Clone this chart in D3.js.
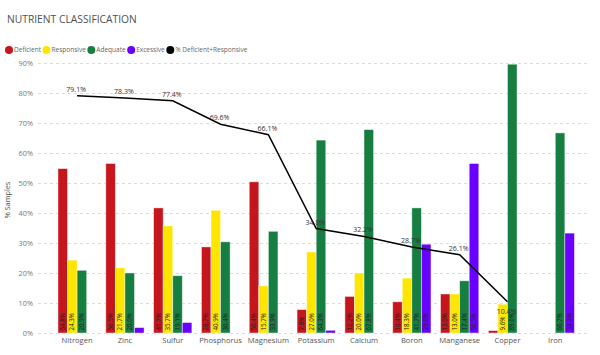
<!DOCTYPE html>
<html><head><meta charset="utf-8">
<script src="https://cdn.jsdelivr.net/npm/d3@7"></script>
<style>body{margin:0;background:#fff;}svg{display:block;}</style>
</head><body>
<svg id="chart" width="600" height="355"></svg>
<script>
const categories = ["Nitrogen","Zinc","Sulfur","Phosphorus","Magnesium","Potassium","Calcium","Boron","Manganese","Copper","Iron"];
const deficient  = [54.8,56.5,41.7,28.7,50.4,7.8,12.2,10.4,13.0,0.8,0];
const responsive = [24.3,21.7,35.7,40.9,15.7,27.0,20.0,18.3,13.0,9.6,0];
const adequate   = [20.9,20.0,19.1,30.4,33.9,64.3,67.8,41.7,17.4,89.6,66.7];
const excessive  = [0,1.8,3.5,0,0,0.9,0,29.6,56.5,0,33.3];
const defResp    = [79.1,78.3,77.4,69.6,66.1,34.8,32.2,28.7,26.1,10.4,null];
const seriesNames = ["Deficient","Responsive","Adequate","Excessive"];
const lineName = "% Deficient+Responsive";
const yTicks = [0,10,20,30,40,50,60,70,80,90];

const colors = {Deficient:"#C5161D",Responsive:"#FFE600",Adequate:"#177E41",Excessive:"#6A00FF"};
const seriesData = [deficient,responsive,adequate,excessive];
const font = "'Segoe UI','Open Sans','Noto Sans',sans-serif";

const svg = d3.select("#chart");

// Title
svg.append("text").attr("x",7).attr("y",23)
  .attr("font-family",font).attr("font-size",12.5).attr("fill","#505050")
  .text("NUTRIENT CLASSIFICATION")
  .each(function(){ const w=this.getComputedTextLength(); d3.select(this).attr("font-size",12.5*130/w); });

// Legend
const legendItems = seriesNames.map(n=>({name:n,color:colors[n]})).concat([{name:lineName,color:"#000"}]);
const probe = svg.append("text").attr("font-family",font).attr("font-size",10).text("Deficient");
const legendFs = 10*27/probe.node().getComputedTextLength();
probe.remove();
let lx = 9;
legendItems.forEach(it=>{
  svg.append("circle").attr("cx",lx).attr("cy",50).attr("r",4).attr("fill",it.color);
  const t = svg.append("text").attr("x",lx+5).attr("y",52.4)
    .attr("font-family",font).attr("font-size",legendFs).attr("fill","#666").text(it.name);
  lx += 5 + t.node().getComputedTextLength() + 5.5;
});

// Scales
const y = d3.scaleLinear().domain([0,90]).range([333,63]);
const x0 = d3.scaleBand().domain(categories).range([53.2,579.2]).paddingInner(0.2).paddingOuter(0.1);
const x1 = d3.scaleBand().domain(seriesNames).range([0,x0.bandwidth()]);

// Y axis with gridlines
const yAxis = d3.axisLeft(y).tickValues(yTicks).tickFormat(d=>d+"%").tickSize(-552).tickPadding(5);
const gy = svg.append("g").attr("transform","translate(38,0)").call(yAxis);
gy.select(".domain").remove();
gy.selectAll(".tick line").attr("stroke","#dcdcdc").attr("stroke-dasharray","3,3");
gy.selectAll(".tick text").attr("font-family",font).attr("font-size",7.3).attr("fill","#777");

// Y title
svg.append("text").attr("transform","translate(10,200) rotate(-90)")
  .attr("text-anchor","middle").attr("font-family",font).attr("font-size",7.3).attr("fill","#555")
  .text("% Samples");

// X axis
const xAxis = d3.axisBottom(x0).tickSize(0).tickPadding(5);
const gx = svg.append("g").attr("transform","translate(0,333)").call(xAxis);
gx.select(".domain").remove();
gx.selectAll(".tick text").attr("font-family",font).attr("font-size",7.6).attr("fill","#555");

// Bars
const groups = svg.append("g").selectAll("g").data(categories).join("g")
  .attr("transform",d=>`translate(${x0(d)},0)`);
const bars = groups.selectAll("g").data((c,i)=>seriesNames.map((s,k)=>({s,v:seriesData[k][i]}))).join("g");
bars.filter(d=>d.v>0).append("rect")
  .attr("x",d=>x1(d.s)).attr("width",x1.bandwidth())
  .attr("y",d=>y(d.v)).attr("height",d=>y(0)-y(d.v))
  .attr("fill",d=>colors[d.s]).attr("stroke","rgba(255,255,255,0.55)").attr("stroke-width",0.8);
bars.filter(d=>d.v>5).append("text")
  .attr("transform",d=>`translate(${x1(d.s)+x1.bandwidth()/2},330.5) rotate(-90)`)
  .attr("dy","0.35em").attr("font-family",font).attr("font-size",6.2).attr("fill","#222")
  .text(d=>d.v.toFixed(1)+"%");

// Line
const pts = categories.map((c,i)=>({c,v:defResp[i]})).filter(d=>d.v!=null);
const line = d3.line().x(d=>x0(d.c)+x0.bandwidth()/2).y(d=>y(d.v));
svg.append("path").datum(pts).attr("d",line).attr("fill","none").attr("stroke","#000").attr("stroke-width",1.5);
svg.append("g").selectAll("text").data(pts).join("text")
  .attr("x",d=>x0(d.c)+x0.bandwidth()/2-1)
  .attr("y",d=>d.v<15 ? y(d.v)+12 : y(d.v)-4)
  .attr("text-anchor","middle").attr("font-family",font).attr("font-size",7).attr("fill","#333")
  .text(d=>d.v.toFixed(1)+"%");
</script>
</body></html>
